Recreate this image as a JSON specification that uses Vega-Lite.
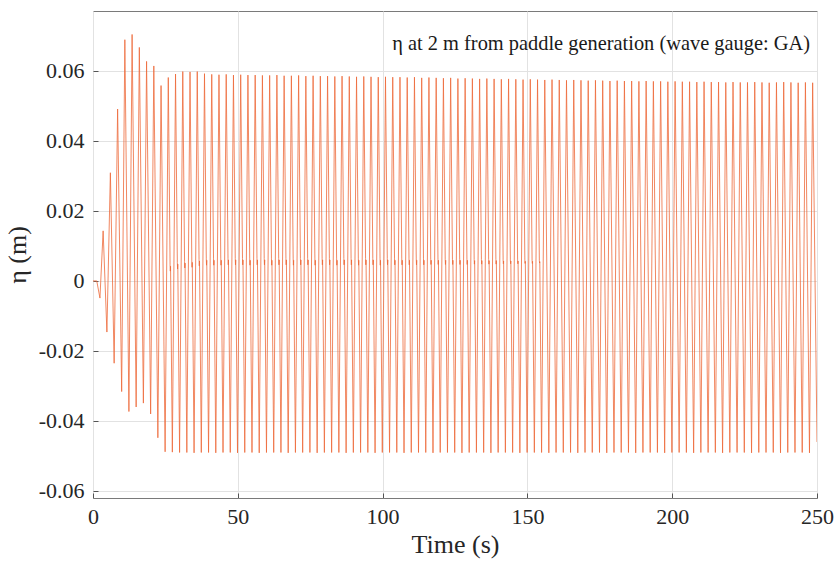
{
  "$schema": "https://vega.github.io/schema/vega-lite/v6.json",
  "width": 724,
  "height": 487,
  "autosize": "none",
  "padding": {"left": 93, "top": 11, "right": 18, "bottom": 66},
  "background": "white",
  "config": {
    "font": "Liberation Serif, Times New Roman, Times, serif",
    "view": {"stroke": "#7a7a7a", "strokeWidth": 1},
    "text": {"font": "Liberation Serif, Times New Roman, Times, serif"},
    "axis": {
      "labelFont": "Liberation Serif, Times New Roman, Times, serif",
      "titleFont": "Liberation Serif, Times New Roman, Times, serif",
      "labelFontSize": 22,
      "titleFontSize": 26,
      "titleFontWeight": "normal",
      "labelColor": "#262626",
      "titleColor": "#262626",
      "domain": false,
      "ticks": true,
      "tickSize": -5,
      "tickColor": "#555555",
      "tickWidth": 1,
      "gridColor": "#e2e2e2",
      "gridWidth": 1
    }
  },
  "layer": [
    {
      "data": {"values": [
        {"t":0,"y":0},{"t":1.3,"y":0},{"t":2.4,"y":-0.0049},{"t":3.5,"y":0.0143},{"t":4.8,"y":-0.0146},{"t":6.0,"y":0.0309},{"t":7.3,"y":-0.0235},{"t":8.5,"y":0.0491},{"t":9.9,"y":-0.0316},{"t":11.0,"y":0.0689},{"t":12.4,"y":-0.0373},{"t":13.5,"y":0.0704},{"t":14.9,"y":-0.0360},{"t":16.0,"y":0.0667},{"t":17.4,"y":-0.0349},{"t":18.5,"y":0.0627},{"t":19.9,"y":-0.0380},{"t":21.0,"y":0.0614},{"t":22.4,"y":-0.0448},{"t":23.5,"y":0.0558},{"t":24.9,"y":-0.0488},
        {"t":26.0,"y":0.0581},{"t":26.62,"y":0.0046},{"t":26.70,"y":0.0028},{"t":26.78,"y":0.0042},{"t":27.4,"y":-0.0489},
        {"t":28.5,"y":0.0591},{"t":29.12,"y":0.0052},{"t":29.20,"y":0.0034},{"t":29.28,"y":0.0048},{"t":29.9,"y":-0.0490},
        {"t":31.0,"y":0.0598},{"t":31.62,"y":0.0055},{"t":31.70,"y":0.0037},{"t":31.78,"y":0.0051},{"t":32.4,"y":-0.0490},
        {"t":33.5,"y":0.0597},{"t":34.12,"y":0.0057},{"t":34.20,"y":0.0039},{"t":34.28,"y":0.0053},{"t":34.9,"y":-0.0491},
        {"t":36.0,"y":0.0598},{"t":36.62,"y":0.0061},{"t":36.70,"y":0.0043},{"t":36.78,"y":0.0057},{"t":37.4,"y":-0.0490},
        {"t":38.5,"y":0.0592},{"t":39.12,"y":0.0063},{"t":39.20,"y":0.0045},{"t":39.28,"y":0.0059},{"t":39.9,"y":-0.0490},
        {"t":41.0,"y":0.0590},{"t":41.62,"y":0.0063},{"t":41.70,"y":0.0045},{"t":41.78,"y":0.0059},{"t":42.4,"y":-0.0491},
        {"t":43.5,"y":0.0589},{"t":44.12,"y":0.0063},{"t":44.20,"y":0.0045},{"t":44.28,"y":0.0059},{"t":44.9,"y":-0.0490},
        {"t":46.0,"y":0.0590},{"t":46.62,"y":0.0064},{"t":46.70,"y":0.0046},{"t":46.78,"y":0.0060},{"t":47.4,"y":-0.0490},
        {"t":48.5,"y":0.0588},{"t":49.12,"y":0.0064},{"t":49.20,"y":0.0046},{"t":49.28,"y":0.0060},{"t":49.9,"y":-0.0491},
        {"t":51.0,"y":0.0589},{"t":51.62,"y":0.0064},{"t":51.70,"y":0.0046},{"t":51.78,"y":0.0060},{"t":52.4,"y":-0.0490},
        {"t":53.5,"y":0.0588},{"t":54.12,"y":0.0063},{"t":54.20,"y":0.0045},{"t":54.28,"y":0.0059},{"t":54.9,"y":-0.0490},
        {"t":56.0,"y":0.0588},{"t":56.62,"y":0.0064},{"t":56.70,"y":0.0046},{"t":56.78,"y":0.0060},{"t":57.4,"y":-0.0491},
        {"t":58.5,"y":0.0587},{"t":59.12,"y":0.0064},{"t":59.20,"y":0.0046},{"t":59.28,"y":0.0060},{"t":59.9,"y":-0.0490},
        {"t":61.0,"y":0.0587},{"t":61.62,"y":0.0063},{"t":61.70,"y":0.0045},{"t":61.78,"y":0.0059},{"t":62.4,"y":-0.0490},
        {"t":63.5,"y":0.0588},{"t":64.12,"y":0.0064},{"t":64.20,"y":0.0046},{"t":64.28,"y":0.0060},{"t":64.9,"y":-0.0490},
        {"t":66.0,"y":0.0586},{"t":66.62,"y":0.0064},{"t":66.70,"y":0.0046},{"t":66.78,"y":0.0060},{"t":67.4,"y":-0.0491},
        {"t":68.5,"y":0.0586},{"t":69.12,"y":0.0063},{"t":69.20,"y":0.0045},{"t":69.28,"y":0.0059},{"t":69.9,"y":-0.0490},
        {"t":71.0,"y":0.0587},{"t":71.62,"y":0.0064},{"t":71.70,"y":0.0046},{"t":71.78,"y":0.0060},{"t":72.4,"y":-0.0490},
        {"t":73.5,"y":0.0585},{"t":74.12,"y":0.0064},{"t":74.20,"y":0.0046},{"t":74.28,"y":0.0060},{"t":74.9,"y":-0.0490},
        {"t":76.0,"y":0.0586},{"t":76.62,"y":0.0063},{"t":76.70,"y":0.0045},{"t":76.78,"y":0.0059},{"t":77.4,"y":-0.0491},
        {"t":78.5,"y":0.0585},{"t":79.12,"y":0.0064},{"t":79.20,"y":0.0046},{"t":79.28,"y":0.0060},{"t":79.9,"y":-0.0490},
        {"t":81.0,"y":0.0585},{"t":81.62,"y":0.0064},{"t":81.70,"y":0.0046},{"t":81.78,"y":0.0060},{"t":82.4,"y":-0.0490},
        {"t":83.5,"y":0.0584},{"t":84.12,"y":0.0063},{"t":84.20,"y":0.0045},{"t":84.28,"y":0.0059},{"t":84.9,"y":-0.0490},
        {"t":86.0,"y":0.0585},{"t":86.62,"y":0.0064},{"t":86.70,"y":0.0046},{"t":86.78,"y":0.0060},{"t":87.4,"y":-0.0491},
        {"t":88.5,"y":0.0584},{"t":89.12,"y":0.0064},{"t":89.20,"y":0.0046},{"t":89.28,"y":0.0060},{"t":89.9,"y":-0.0490},
        {"t":91.0,"y":0.0583},{"t":91.62,"y":0.0063},{"t":91.70,"y":0.0045},{"t":91.78,"y":0.0059},{"t":92.4,"y":-0.0490},
        {"t":93.5,"y":0.0584},{"t":94.12,"y":0.0064},{"t":94.20,"y":0.0046},{"t":94.28,"y":0.0060},{"t":94.9,"y":-0.0490},
        {"t":96.0,"y":0.0583},{"t":96.62,"y":0.0064},{"t":96.70,"y":0.0046},{"t":96.78,"y":0.0060},{"t":97.4,"y":-0.0491},
        {"t":98.5,"y":0.0582},{"t":99.12,"y":0.0063},{"t":99.20,"y":0.0045},{"t":99.28,"y":0.0059},{"t":99.9,"y":-0.0490},
        {"t":101.0,"y":0.0583},{"t":101.62,"y":0.0064},{"t":101.70,"y":0.0046},{"t":101.78,"y":0.0060},{"t":102.4,"y":-0.0490},
        {"t":103.5,"y":0.0582},{"t":104.12,"y":0.0063},{"t":104.20,"y":0.0046},{"t":104.28,"y":0.0059},{"t":104.9,"y":-0.0490},
        {"t":106.0,"y":0.0582},{"t":106.62,"y":0.0063},{"t":106.70,"y":0.0046},{"t":106.78,"y":0.0059},{"t":107.4,"y":-0.0491},
        {"t":108.5,"y":0.0581},{"t":109.12,"y":0.0063},{"t":109.20,"y":0.0046},{"t":109.28,"y":0.0059},{"t":109.9,"y":-0.0490},
        {"t":111.0,"y":0.0582},{"t":111.62,"y":0.0063},{"t":111.70,"y":0.0046},{"t":111.78,"y":0.0059},{"t":112.4,"y":-0.0490},
        {"t":113.5,"y":0.0580},{"t":114.12,"y":0.0063},{"t":114.20,"y":0.0046},{"t":114.28,"y":0.0059},{"t":114.9,"y":-0.0490},
        {"t":116.0,"y":0.0581},{"t":116.62,"y":0.0062},{"t":116.70,"y":0.0047},{"t":116.78,"y":0.0059},{"t":117.4,"y":-0.0491},
        {"t":118.5,"y":0.0580},{"t":119.12,"y":0.0062},{"t":119.20,"y":0.0047},{"t":119.28,"y":0.0059},{"t":119.9,"y":-0.0490},
        {"t":121.0,"y":0.0579},{"t":121.62,"y":0.0062},{"t":121.70,"y":0.0047},{"t":121.78,"y":0.0059},{"t":122.4,"y":-0.0490},
        {"t":123.5,"y":0.0580},{"t":124.12,"y":0.0062},{"t":124.20,"y":0.0047},{"t":124.28,"y":0.0059},{"t":124.9,"y":-0.0490},
        {"t":126.0,"y":0.0578},{"t":126.62,"y":0.0062},{"t":126.70,"y":0.0047},{"t":126.78,"y":0.0059},{"t":127.4,"y":-0.0491},
        {"t":128.5,"y":0.0579},{"t":129.12,"y":0.0062},{"t":129.20,"y":0.0047},{"t":129.28,"y":0.0059},{"t":129.9,"y":-0.0490},
        {"t":131.0,"y":0.0578},{"t":131.62,"y":0.0061},{"t":131.70,"y":0.0048},{"t":131.78,"y":0.0058},{"t":132.4,"y":-0.0490},
        {"t":133.5,"y":0.0577},{"t":134.12,"y":0.0061},{"t":134.20,"y":0.0048},{"t":134.28,"y":0.0058},{"t":134.9,"y":-0.0490},
        {"t":136.0,"y":0.0578},{"t":136.62,"y":0.0061},{"t":136.70,"y":0.0048},{"t":136.78,"y":0.0058},{"t":137.4,"y":-0.0491},
        {"t":138.5,"y":0.0577},{"t":139.12,"y":0.0061},{"t":139.20,"y":0.0048},{"t":139.28,"y":0.0058},{"t":139.9,"y":-0.0490},
        {"t":141.0,"y":0.0576},{"t":141.62,"y":0.0060},{"t":141.70,"y":0.0049},{"t":141.78,"y":0.0057},{"t":142.4,"y":-0.0490},
        {"t":143.5,"y":0.0577},{"t":144.12,"y":0.0060},{"t":144.20,"y":0.0049},{"t":144.28,"y":0.0057},{"t":144.9,"y":-0.0490},
        {"t":146.0,"y":0.0576},{"t":146.62,"y":0.0060},{"t":146.70,"y":0.0049},{"t":146.78,"y":0.0057},{"t":147.4,"y":-0.0491},
        {"t":148.5,"y":0.0575},{"t":149.12,"y":0.0060},{"t":149.20,"y":0.0050},{"t":149.28,"y":0.0056},{"t":149.9,"y":-0.0490},
        {"t":151.0,"y":0.0576},{"t":151.62,"y":0.0059},{"t":151.70,"y":0.0050},{"t":151.78,"y":0.0056},{"t":152.4,"y":-0.0490},
        {"t":153.5,"y":0.0575},{"t":154.12,"y":0.0059},{"t":154.20,"y":0.0051},{"t":154.28,"y":0.0055},{"t":154.9,"y":-0.0490},
        {"t":156.0,"y":0.0574},{"t":157.4,"y":-0.0491},
        {"t":158.5,"y":0.0575},{"t":159.9,"y":-0.0490},
        {"t":161.0,"y":0.0574},{"t":162.4,"y":-0.0490},
        {"t":163.5,"y":0.0573},{"t":164.9,"y":-0.0490},
        {"t":166.0,"y":0.0574},{"t":167.4,"y":-0.0491},
        {"t":168.5,"y":0.0573},{"t":169.9,"y":-0.0490},
        {"t":171.0,"y":0.0572},{"t":172.4,"y":-0.0490},
        {"t":173.5,"y":0.0573},{"t":174.9,"y":-0.0490},
        {"t":176.0,"y":0.0572},{"t":177.4,"y":-0.0491},
        {"t":178.5,"y":0.0571},{"t":179.9,"y":-0.0490},
        {"t":181.0,"y":0.0572},{"t":182.4,"y":-0.0490},
        {"t":183.5,"y":0.0571},{"t":184.9,"y":-0.0490},
        {"t":186.0,"y":0.0571},{"t":187.4,"y":-0.0491},
        {"t":188.5,"y":0.0570},{"t":189.9,"y":-0.0490},
        {"t":191.0,"y":0.0571},{"t":192.4,"y":-0.0490},
        {"t":193.5,"y":0.0570},{"t":194.9,"y":-0.0490},
        {"t":196.0,"y":0.0570},{"t":197.4,"y":-0.0491},
        {"t":198.5,"y":0.0569},{"t":199.9,"y":-0.0490},
        {"t":201.0,"y":0.0570},{"t":202.4,"y":-0.0490},
        {"t":203.5,"y":0.0569},{"t":204.9,"y":-0.0490},
        {"t":206.0,"y":0.0569},{"t":207.4,"y":-0.0491},
        {"t":208.5,"y":0.0568},{"t":209.9,"y":-0.0490},
        {"t":211.0,"y":0.0569},{"t":212.4,"y":-0.0490},
        {"t":213.5,"y":0.0568},{"t":214.9,"y":-0.0490},
        {"t":216.0,"y":0.0568},{"t":217.4,"y":-0.0491},
        {"t":218.5,"y":0.0567},{"t":219.9,"y":-0.0490},
        {"t":221.0,"y":0.0568},{"t":222.4,"y":-0.0490},
        {"t":223.5,"y":0.0567},{"t":224.9,"y":-0.0490},
        {"t":226.0,"y":0.0567},{"t":227.4,"y":-0.0491},
        {"t":228.5,"y":0.0568},{"t":229.9,"y":-0.0490},
        {"t":231.0,"y":0.0567},{"t":232.4,"y":-0.0490},
        {"t":233.5,"y":0.0566},{"t":234.9,"y":-0.0490},
        {"t":236.0,"y":0.0567},{"t":237.4,"y":-0.0491},
        {"t":238.5,"y":0.0568},{"t":239.9,"y":-0.0490},
        {"t":241.0,"y":0.0567},{"t":242.4,"y":-0.0490},
        {"t":243.5,"y":0.0566},{"t":244.9,"y":-0.0490},
        {"t":246.0,"y":0.0567},{"t":247.4,"y":-0.0491},
        {"t":248.5,"y":0.0566},{"t":250.0,"y":-0.0460}
      ]},
      "mark": {"type": "line", "stroke": "#ee6a3a", "strokeWidth": 0.8, "clip": true},
      "encoding": {
        "x": {
          "field": "t", "type": "quantitative",
          "scale": {"domain": [0, 250], "nice": false, "zero": false},
          "axis": {"title": "Time (s)", "values": [0, 50, 100, 150, 200, 250], "labelPadding": 13, "titlePadding": 4, "labelFlush": false}
        },
        "y": {
          "field": "y", "type": "quantitative",
          "scale": {"domain": [-0.062, 0.0771], "nice": false, "zero": false},
          "axis": {
            "title": "η (m)",
            "values": [-0.06, -0.04, -0.02, 0, 0.02, 0.04, 0.06],
            "labelExpr": "datum.value == 0 ? '0' : replace(format(datum.value, '.2f'), '\u2212', '-')",
            "labelPadding": 14,
            "titlePadding": 8
          }
        }
      }
    },
    {
      "data": {"values": [{"t": 250, "y": 0.066, "label": "η at 2 m from paddle generation (wave gauge: GA)"}]},
      "mark": {"type": "text", "align": "right", "baseline": "alphabetic", "dx": -7, "font": "Liberation Serif, Times New Roman, Times, serif", "fontSize": 20.4, "color": "#1a1a1a"},
      "encoding": {
        "x": {"field": "t", "type": "quantitative"},
        "y": {"field": "y", "type": "quantitative"},
        "text": {"field": "label"}
      }
    }
  ]
}
